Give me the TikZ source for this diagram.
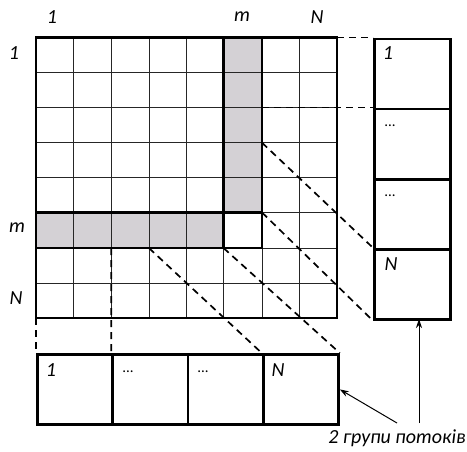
\documentclass[tikz,border=0pt]{standalone}
\usepackage{fontspec}
\setmainfont{Carlito}
\usetikzlibrary{arrows.meta}
\definecolor{cellgrey}{RGB}{212,209,213}
\begin{document}
\begin{tikzpicture}[x=1pt,y=-1pt,
  thinline/.style={line width=0.8pt, black!85},
  thickline/.style={line width=2.8pt, line cap=rect},
  box/.style={draw, line width=2.8pt, rectangle, anchor=north west, inner sep=0pt},
  conn/.style={line width=1.7pt, dash pattern=on 7pt off 5pt},
  lab/.style={font=\fontsize{20}{20}\selectfont\itshape, inner sep=0pt},
  dots/.style={font=\fontsize{15}{15}\selectfont, inner sep=0pt},
  pointer/.style={line width=1pt, -{Stealth[length=9pt,width=6pt]}}]
\useasboundingbox (0,0) rectangle (467,451);
% shaded column m and row m
\fill[cellgrey] (223.5,37.5) rectangle (262,212.5);
\fill[cellgrey] (36,212.5) rectangle (223.5,248);
% thin grid lines
\foreach \x in {73.6,111.3,148.9,186.5,223.5,262,299.4}
  \draw[thinline] (\x,37.5) -- (\x,318);
\foreach \y in {72.6,107.6,142.7,177.8,212.5,248,282.9}
  \draw[thinline] (36,\y) -- (337,\y);
% thick outlines
\draw[thickline] (36,37.5) rectangle (337,318);
\draw[thickline] (223.5,37.5) rectangle (262,248);
\draw[thickline] (36,212.5) rectangle (262,248);
% named points on the matrix
\coordinate (gTR) at (337,37.5);
\coordinate (gBL) at (36,318);
\coordinate (cA) at (262,107.6);
\coordinate (cB) at (262,142.7);
\coordinate (cC) at (262,212.5);
\coordinate (cD) at (148.9,248);
\coordinate (cE) at (223.5,248);
\coordinate (cF) at (111.3,248);
% axis labels
\node[lab] (t1) at (52,17) {1};
\node[lab] (tm) at (242,17) {m};
\node[lab] (tN) at (317,17) {N};
\node[lab] (l1) at (14,53) {1};
\node[lab] (lm) at (17,228) {m};
\node[lab] (lN) at (16,298) {N};
% right column of boxes
\node[box, minimum width=76pt, minimum height=70.1pt] (r1) at (373,37.5) {};
\node[box, minimum width=76pt, minimum height=70.1pt] (r2) at (373,107.6) {};
\node[box, minimum width=76pt, minimum height=70.1pt] (r3) at (373,177.7) {};
\node[box, minimum width=76pt, minimum height=70.1pt] (r4) at (373,247.8) {};
\node[lab] (r1t) at (388,53) {1};
\node[dots] (r2t) at (390,126) {...};
\node[dots] (r3t) at (390,196) {...};
\node[lab] (r4t) at (391,264) {N};
% bottom row of boxes
\node[box, minimum width=75.25pt, minimum height=70pt] (b1) at (36,353) {};
\node[box, minimum width=75.25pt, minimum height=70pt] (b2) at (111.25,353) {};
\node[box, minimum width=75.25pt, minimum height=70pt] (b3) at (186.5,353) {};
\node[box, minimum width=75.25pt, minimum height=70pt] (b4) at (261.75,353) {};
\node[lab] (b1t) at (51,370) {1};
\node[dots] (b2t) at (128,372) {...};
\node[dots] (b3t) at (203,372) {...};
\node[lab] (b4t) at (278,370) {N};
% dashed connectors
\draw[conn] (gTR) -- (r1.north west);
\draw[conn] (cA) -- (r2.north west);
\draw[conn] (cB) -- (r4.north west);
\draw[conn] (cC) -- (r4.south west);
\draw[conn] (cD) -- (b4.north west);
\draw[conn] (cE) -- (b4.north east);
\draw[conn] (gBL) -- (b1.north west);
\draw[conn] (cF) -- (b2.north west);
% caption and pointers
\node[lab, anchor=center] (cap) at (397,438) {2 групи потоків};
\coordinate (p1) at (397,423);
\coordinate (p2) at (419,423);
\coordinate (q2) at (419,319);
\draw[pointer] (p1) -- (b4.east);
\draw[pointer] (p2) -- (q2);
\end{tikzpicture}
\end{document}
